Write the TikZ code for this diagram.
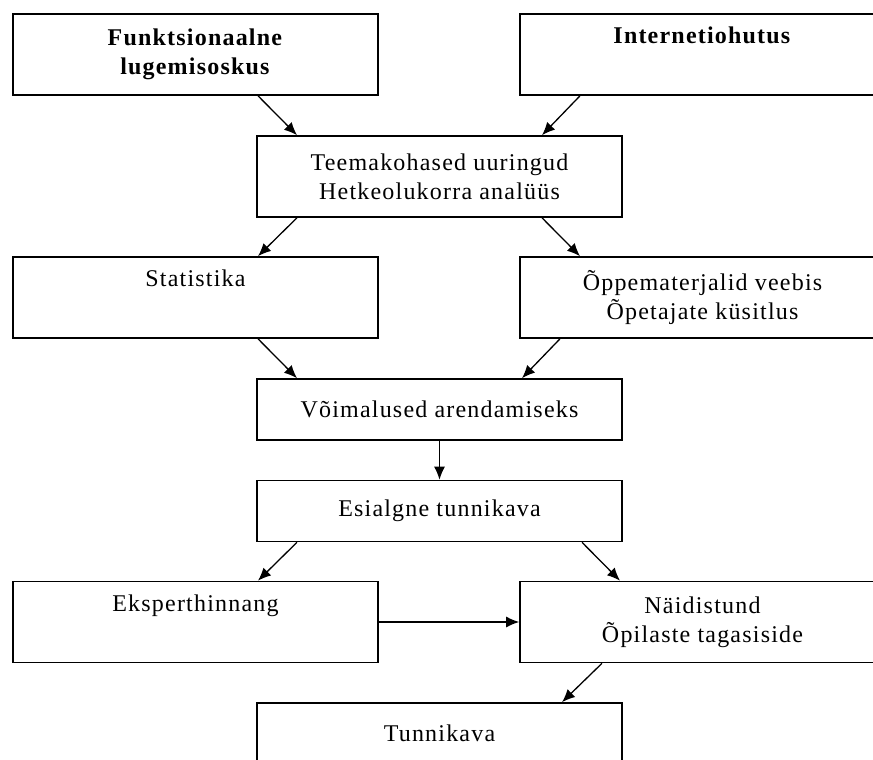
\documentclass[tikz,border=0pt]{standalone}
\usepackage{fontspec}
\setmainfont[LetterSpace=5]{Liberation Serif}
\usetikzlibrary{arrows.meta}
\begin{document}
\begin{tikzpicture}[x=0.5pt,y=-0.5pt,
        box/.style={draw, line width=0.8pt, minimum width=182.5pt, inner sep=0pt, align=center,
            font=\fontsize{12}{14.5}\selectfont},
        tall/.style={box, minimum height=40.5pt},
        low/.style={box, minimum height=30.5pt},
        arr/.style={line width=0.65pt, -{Latex[length=6.5pt,width=5.5pt]}}]
        \useasboundingbox (0,0) rectangle (873,760);
        \clip (0,0) rectangle (873,760);

        \node[tall] (fls) at (195.5,54.5) {\textbf{Funktsionaalne}\\\textbf{lugemisoskus}};
        \node[tall] (int) at (702.5,54.5) {\textbf{Internetiohutus}\\\strut};
        \node[tall] (tee) at (439.5,176.5) {Teemakohased uuringud\\Hetkeolukorra analüüs};
        \node[tall] (sta) at (195.5,297.5) {Statistika\\\strut};
        \node[tall] (opm) at (702.5,297.5) {Õppematerjalid veebis\\Õpetajate küsitlus};
        \node[low] (voi) at (439.5,409.5) {Võimalused arendamiseks};
        \node[low] (esi) at (439.5,511) {Esialgne tunnikava};
        \node[tall] (eks) at (195.5,622) {Eksperthinnang\\\strut};
        \node[tall] (nai) at (702.5,622) {Näidistund\\Õpilaste tagasiside};
        \node[low] (tun) at (439.5,733.5) {Tunnikava};

        \draw[arr] ([xshift=31.25pt]fls.south) -- ([xshift=-71.25pt]tee.north);
        \draw[arr] ([xshift=-61.25pt]int.south) -- ([xshift=51.25pt]tee.north);
        \draw[arr] ([xshift=-71.25pt]tee.south) -- ([xshift=31.25pt]sta.north);
        \draw[arr] ([xshift=51.25pt]tee.south) -- ([xshift=-61.25pt]opm.north);
        \draw[arr] ([xshift=31.25pt]sta.south) -- ([xshift=-71.25pt]voi.north);
        \draw[arr] ([xshift=-71.25pt]opm.south) -- ([xshift=41.25pt]voi.north);
        \draw[arr] (voi.south) -- (esi.north);
        \draw[arr] ([xshift=-71.25pt]esi.south) -- ([xshift=31.25pt]eks.north);
        \draw[arr] ([xshift=71.25pt]esi.south) -- ([xshift=-41.25pt]nai.north);
        \draw[arr] (eks.east) -- (nai.west);
        \draw[arr] ([xshift=-50.25pt]nai.south) -- ([xshift=61.25pt]tun.north);
    \end{tikzpicture}
\end{document}
